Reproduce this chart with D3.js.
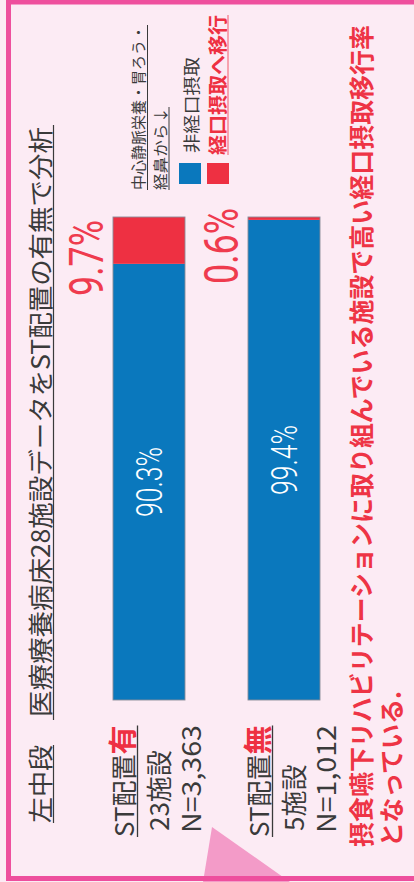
<!DOCTYPE html>
<html>
<head>
<meta charset="utf-8">
<script src="https://cdn.jsdelivr.net/npm/d3@7"></script>
<style>
  html, body { margin: 0; padding: 0; background: #fcebf4; }
  svg { display: block; }
</style>
</head>
<body>
<div id="chart"></div>
<script>
// values
let categories = ['有', '無'];
let facilities = [23, 5];
let patients = [3363, 1012];
let nonOral = [90.3, 99.4];
let toOral = [9.7, 0.6];
let seriesNames = ['非経口摂取', '経口摂取へ移行'];
let legendTitle = ['中心静脈栄養・胃ろう・', '経鼻から↓'];
let titleParts = ['左中段', '医療療養病床28施設データをST配置の有無で分析'];
let conclusion = ['摂食嚥下リハビリテーションに取り組んでいる施設で高い経口摂取移行率', 'となっている.'];

var W = 882, H = 414;
var blue = '#0a78bd', red = '#ee3042', pink = '#ee4f9d', ink = '#3a3a3a';
var jp = '"Noto Sans CJK JP", "Noto Sans", sans-serif';
var num = 'Roboto, "Noto Sans", sans-serif';

var svg = d3.select('#chart').append('svg').attr('width', H).attr('height', W);
svg.append('rect').attr('width', H).attr('height', W).attr('fill', '#fcebf4');

// the whole sheet is turned a quarter left
var g = svg.append('g').attr('transform', 'translate(0,' + W + ') rotate(-90)');

function label(str, u, v, size, opts) {
    opts = opts || {};
    var t = g.append('text').attr('x', u).attr('y', v)
        .attr('font-size', size).attr('font-family', opts.family || jp)
        .attr('font-weight', opts.weight || 400).attr('fill', opts.fill || ink)
        .text(str);
    if (opts.len) t.attr('textLength', opts.len).attr('lengthAdjust', 'spacingAndGlyphs');
    if (opts.anchor) t.attr('text-anchor', opts.anchor);
    return t;
}
function rule(u1, u2, v, color, w) {
    g.append('line').attr('x1', u1).attr('x2', u2).attr('y1', v).attr('y2', v)
        .attr('stroke', color || ink).attr('stroke-width', w || 1.2);
}

// bubble tail + frame
g.append('path').attr('d', 'M0,203 L55,212 L0,290 Z').attr('fill', '#f39bc8');
g.append('rect').attr('x', 3.5).attr('y', 8.5).attr('width', 876.5).attr('height', 500)
    .attr('fill', 'none').attr('stroke', pink).attr('stroke-width', 5);

// title
label(titleParts[0], 59, 50, 25, { len: 78 });
rule(59, 137, 53.5);
label(titleParts[1], 165, 50, 25, { len: 590 });
rule(162, 757, 53.5);

// legend
label(legendTitle[0], 692, 144, 15, { len: 165 });
rule(692, 857, 147.5, ink, 1);
label(legendTitle[1], 692, 166, 15, { len: 83 });
rule(692, 775, 169, ink, 1);

var legend = g.selectAll('.legend').data(seriesNames).enter().append('g').attr('class', 'legend');
legend.append('rect').attr('x', 698).attr('y', (d, i) => 179 + 28 * i)
    .attr('width', 21).attr('height', 22).attr('fill', (d, i) => i ? red : blue);
legend.append('text')
    .attr('x', (d, i) => i ? 727 : 729).attr('y', (d, i) => i ? 225 : 198)
    .attr('font-family', jp).attr('font-size', (d, i) => i ? 19.5 : 17)
    .attr('font-weight', (d, i) => i ? 700 : 400).attr('fill', (d, i) => i ? red : ink)
    .attr('textLength', (d, i) => i ? 140 : 96).attr('lengthAdjust', 'spacingAndGlyphs')
    .text(d => d);
rule(727, 867, 228, '#f25a6a', 1);

// bars
var x = d3.scaleLinear().domain([0, 100]).range([182, 665]);
var y = d3.scaleBand().domain(categories).range([113, 320]).paddingInner(0.4667);
var bw = y.bandwidth();

var rows = categories.map((c, i) => ({ cat: c, nonOral: nonOral[i], toOral: toOral[i] }));
var series = d3.stack().keys(['nonOral', 'toOral'])(rows);

g.selectAll('.layer').data(series).enter().append('g').attr('class', 'layer')
    .attr('fill', (d, i) => i ? red : blue)
    .selectAll('rect').data(d => d).enter().append('rect')
    .attr('x', d => x(d[0])).attr('width', d => x(d[1]) - x(d[0]))
    .attr('y', d => y(d.data.cat)).attr('height', bw);

g.selectAll('.outline').data(rows).enter().append('rect')
    .attr('x', x(0)).attr('width', x(100) - x(0))
    .attr('y', d => y(d.cat)).attr('height', bw)
    .attr('fill', 'none').attr('stroke', '#8a8c98').attr('stroke-width', 0.9);

// value labels inside blue part
g.selectAll('.inner').data(rows).enter().append('text')
    .attr('x', d => x(d.nonOral / 2)).attr('y', d => y(d.cat) + bw / 2 + 13)
    .attr('text-anchor', 'middle').attr('font-family', num).attr('font-weight', 300)
    .attr('font-size', 36).attr('fill', '#fff')
    .attr('textLength', 70).attr('lengthAdjust', 'spacingAndGlyphs')
    .text(d => d.nonOral + '%');

// red share labels beside the bar tops
var shift = [-3, 9];
g.selectAll('.outer').data(rows).enter().append('text')
    .attr('x', (d, i) => x(100) + shift[i]).attr('y', d => y(d.cat) - 10.5)
    .attr('text-anchor', 'end').attr('font-family', num).attr('font-weight', 400)
    .attr('font-size', 48).attr('fill', '#ef3b4e')
    .attr('textLength', 76).attr('lengthAdjust', 'spacingAndGlyphs')
    .text(d => d.toOral + '%');

// category blocks
var fmt = d3.format(',');
categories.forEach((c, i) => {
    var v0 = y(c);
    var head = g.append('text').attr('x', 45).attr('y', v0 + 21)
        .attr('font-family', jp).attr('fill', ink);
    head.append('tspan').attr('font-size', 26).text('ST配置');
    head.append('tspan').attr('font-size', 29).attr('font-weight', 700)
        .attr('fill', red).text(c);
    var len = head.node().getComputedTextLength();
    rule(45, 45 + len, v0 + 24.5, ink, 1.3);

    label(facilities[i] + '施設', 51, v0 + 56, 26);
    label('N=' + fmt(patients[i]), 49, v0 + 88, 26, { len: 108 });
});

// conclusion
label(conclusion[0], 35, 371, 25, { weight: 700, fill: '#ee3445', len: 822 });
label(conclusion[1], 35, 401, 25, { weight: 700, fill: '#ee3445' });
</script>
</body>
</html>
